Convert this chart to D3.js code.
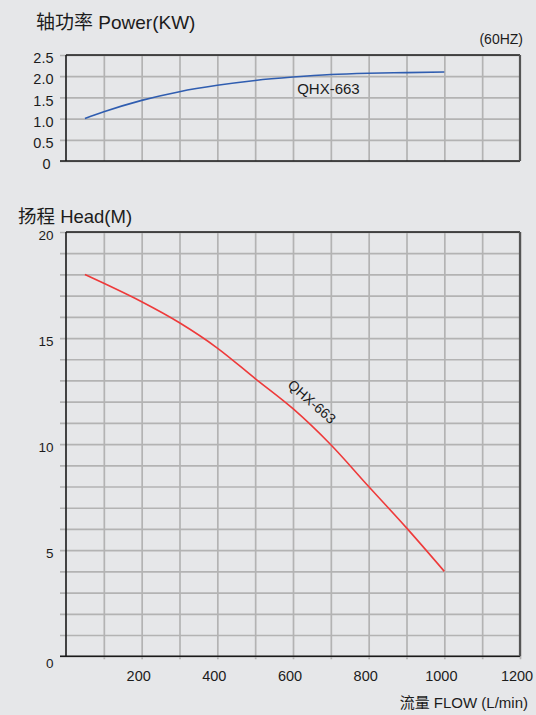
<!DOCTYPE html>
<html><head><meta charset="utf-8">
<script src="https://cdn.jsdelivr.net/npm/d3@7/dist/d3.min.js"></script>
<style>
html,body{margin:0;padding:0;background:#e6e7e9;}
svg{display:block;}
text{font-family:"Liberation Sans",Arial,"Noto Sans CJK SC",sans-serif;fill:#1c1c1c;}
</style></head><body>
<svg id="chart" width="536" height="715"></svg>
<script>
// ---- data ----
const flowTicks = [200, 400, 600, 800, 1000, 1200];
const flowGrid = [100, 200, 300, 400, 500, 600, 700, 800, 900, 1000, 1100];
const powerTicks = [0, 0.5, 1.0, 1.5, 2.0, 2.5];
const headTicks = [0, 5, 10, 15, 20];
const headGrid = [0,1,2,3,4,5,6,7,8,9,10,11,12,13,14,15,16,17,18,19,20];
const pumpFlow = [50, 100, 200, 300, 400, 500, 600, 700, 800, 900, 1000];
const pumpPower = [1.0, 1.16, 1.43, 1.635, 1.785, 1.90, 1.98, 2.04, 2.07, 2.085, 2.10];
const pumpHead = [18.0, 17.58, 16.71, 15.72, 14.53, 13.09, 11.67, 9.97, 8.0, 6.05, 4.0];
const modelName = "QHX-663";
const powerTitle = "轴功率 Power(KW)";
const headTitle = "扬程 Head(M)";
const freqLabel = "(60HZ)";
const flowTitle = "流量 FLOW (L/min)";

// ---- layout ----
const svg = d3.select("#chart");
const left = 66, plotW = 454;
const topY = 55, topH = 106;
const botY = 232, botH = 424.2;
const gridColor = "#b3b3b3";

const x = d3.scaleLinear().domain([0, 1200]).range([0, plotW]);
const yP = d3.scaleLinear().domain([0, 2.5]).range([topH, 0]);
const yH = d3.scaleLinear().domain([0, 20]).range([botH, 0]);

function styleGrid(g) {
  g.select(".domain").remove();
  g.selectAll(".tick line").attr("stroke", gridColor).attr("stroke-width", 1.7);
}

function drawFrame(g, h) {
  g.append("line").attr("x1", 0).attr("x2", plotW).attr("y1", 0).attr("y2", 0)
    .attr("stroke", "#1a1a1a").attr("stroke-width", 1.6);
  g.append("line").attr("x1", -6).attr("x2", plotW).attr("y1", h).attr("y2", h)
    .attr("stroke", "#1a1a1a").attr("stroke-width", 1.6);
  g.append("line").attr("x1", 0).attr("x2", 0).attr("y1", 0).attr("y2", h)
    .attr("stroke", "#1a1a1a").attr("stroke-width", 1.6);
  g.append("line").attr("x1", plotW).attr("x2", plotW).attr("y1", 0).attr("y2", h)
    .attr("stroke", "#555").attr("stroke-width", 2.2);
}

// ---------- top: power ----------
const gt = svg.append("g").attr("transform", `translate(${left},${topY})`);
gt.append("g").attr("transform", `translate(0,${topH})`)
  .call(d3.axisBottom(x).tickValues(flowGrid).tickSize(-topH).tickFormat(""))
  .call(styleGrid);
gt.append("g").attr("transform", `translate(-6,0)`)
  .call(d3.axisLeft(yP).tickValues(powerTicks).tickSize(-(plotW + 6)).tickFormat(""))
  .call(styleGrid);
drawFrame(gt, topH);
const pAxis = gt.append("g")
  .call(d3.axisLeft(yP).tickValues(powerTicks).tickSize(0).tickPadding(12.5)
    .tickFormat(d => d === 0 ? "0" : d3.format(".1f")(d)));
pAxis.select(".domain").remove();
pAxis.selectAll("text").attr("font-size", 14.5).attr("fill", "#1c1c1c")
  .attr("transform", d => d === 0 ? "translate(-3,2.5)" : "translate(0,3)");

gt.append("path").datum(pumpFlow.map((f, i) => [f, pumpPower[i]]))
  .attr("fill", "none").attr("stroke", "#2f5db0").attr("stroke-width", 1.6)
  .attr("d", d3.line().x(d => x(d[0])).y(d => yP(d[1])).curve(d3.curveMonotoneX));
gt.append("text").attr("x", x(611)).attr("y", yP(1.58)).attr("font-size", 15).text(modelName);

// ---------- bottom: head ----------
const gb = svg.append("g").attr("transform", `translate(${left},${botY})`);
gb.append("g").attr("transform", `translate(0,${botH + 3})`)
  .call(d3.axisBottom(x).tickValues(flowGrid.concat([1200])).tickSize(-(botH + 3)).tickFormat(""))
  .call(styleGrid);
gb.append("g").attr("transform", `translate(-6,0)`)
  .call(d3.axisLeft(yH).tickValues(headGrid).tickSize(-(plotW + 6)).tickFormat(""))
  .call(styleGrid);
drawFrame(gb, botH);
const hAxis = gb.append("g")
  .call(d3.axisLeft(yH).tickValues(headTicks).tickSize(0).tickPadding(12.5).tickFormat(d3.format("d")));
hAxis.select(".domain").remove();
hAxis.selectAll("text").attr("font-size", 13.5).attr("fill", "#1c1c1c")
  .attr("transform", d => d === 0 ? "translate(0,7)" : "translate(0,3.5)");

const xAxis = gb.append("g").attr("transform", `translate(0,${botH})`)
  .call(d3.axisBottom(x).tickValues(flowTicks).tickSize(0).tickPadding(14.5).tickFormat(d3.format("d")));
xAxis.select(".domain").remove();
xAxis.selectAll("text").attr("font-size", 14.5).attr("fill", "#1c1c1c").attr("dx", -3.5);

gb.append("path").datum(pumpFlow.map((f, i) => [f, pumpHead[i]]))
  .attr("fill", "none").attr("stroke", "#ee3a3a").attr("stroke-width", 1.6)
  .attr("d", d3.line().x(d => x(d[0])).y(d => yH(d[1])).curve(d3.curveMonotoneX));
gb.append("text")
  .attr("transform", `translate(${x(650)},${yH(12.0)}) rotate(41)`)
  .attr("text-anchor", "middle").attr("dy", "0.35em").attr("font-size", 14).text(modelName);

// ---------- titles ----------
svg.append("text").attr("x", 36).attr("y", 29).attr("font-size", 19).text(powerTitle);
svg.append("text").attr("x", 523).attr("y", 43.7).attr("text-anchor", "end").attr("font-size", 14).text(freqLabel);
svg.append("text").attr("x", 18).attr("y", 223.3).attr("font-size", 18.5).text(headTitle);
svg.append("text").attr("x", 528).attr("y", 707.7).attr("text-anchor", "end").attr("font-size", 15).text(flowTitle);
</script>
</body></html>
